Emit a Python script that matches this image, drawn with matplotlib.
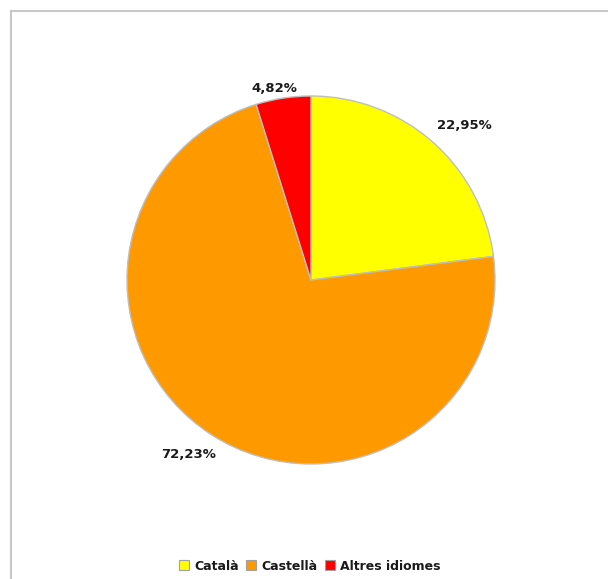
import matplotlib
matplotlib.use('Agg')
import numpy as np
import matplotlib.pyplot as plt
from matplotlib.lines import Line2D
import matplotlib.patches as mpatches

# --- Data ---
languages = ['Català', 'Castellà', 'Altres idiomes']
shares = [22.95, 72.23, 4.82]
slice_colors = ['#FFFF00', '#FF9900', '#FF0000']

W, H = 608, 579
fig = plt.figure(figsize=(W / 100, H / 100), dpi=100, facecolor='white')

# frame (only top and left edges visible in the reference)
frame_color = '#c8c8c8'
fig.add_artist(Line2D([10.5 / W, 1.0], [1 - 10.5 / H, 1 - 10.5 / H],
                      transform=fig.transFigure, color=frame_color, lw=1.5))
fig.add_artist(Line2D([10.5 / W, 10.5 / W], [0.0, 1 - 10.5 / H],
                      transform=fig.transFigure, color=frame_color, lw=1.5))

# pie: centre at (311, 280) px, radius 184 px
cx, cy, r = 311, 280, 184
ax = fig.add_axes([(cx - r) / W, (H - cy - r) / H, 2 * r / W, 2 * r / H])

wedges, texts, autotexts = ax.pie(
    shares, colors=slice_colors, startangle=90, counterclock=False,
    autopct=lambda p: f'{p:.2f}%'.replace('.', ','), pctdistance=1.16,
    wedgeprops=dict(edgecolor='#bfbfbf', linewidth=1.0),
)
# Excel "best fit" style: labels sit at slightly different distances
label_dist = [1.18, 1.16, 1.06]
label_shift = [-3.5, -2.5, 2]  # degrees
for w, t, d, s in zip(wedges, autotexts, label_dist, label_shift):
    ang = np.deg2rad((w.theta1 + w.theta2) / 2 + s)
    t.set_position((d * np.cos(ang), d * np.sin(ang)))
    t.set_fontsize(9.5)
    t.set_fontweight('bold')
    t.set_color('#1a1a1a')
ax.set_xlim(-1, 1)
ax.set_ylim(-1, 1)
ax.set_aspect('equal')

legend = fig.legend(
    [mpatches.Patch(facecolor=c, edgecolor='#a0a0a0', linewidth=0.8) for c in slice_colors],
    languages, loc='center', bbox_to_anchor=(310 / W, 1 - 566 / H),
    ncol=3, frameon=False, handlelength=0.8, handleheight=0.8,
    handletextpad=0.4, columnspacing=0.6,
    prop=dict(weight='bold', size=9),
)
for t in legend.get_texts():
    t.set_color('#1a1a1a')

plt.savefig('out.png', dpi=100, facecolor=fig.get_facecolor())
plt.close()
